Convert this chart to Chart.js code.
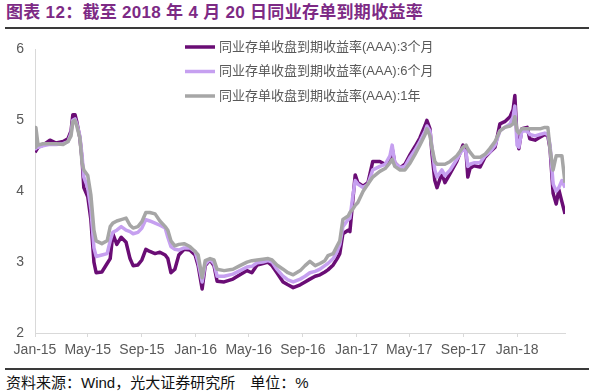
<!DOCTYPE html>
<html>
<head>
<meta charset="utf-8">
<script src="https://cdn.jsdelivr.net/npm/chart.js@4.4.1/dist/chart.umd.min.js"></script>
<style>
  html, body { margin: 0; padding: 0; background: #fff; }
  body {
    width: 600px; height: 392px; position: relative; overflow: hidden;
    font-family: "Liberation Sans", Arial, "Noto Sans CJK SC", sans-serif;
  }
  .title {
    position: absolute; left: 6px; top: 3px; line-height: 20px; letter-spacing: 0.3px;
    font-size: 17px; font-weight: bold; color: #7d2a85; white-space: nowrap;
  }
  .rule { position: absolute; left: 5px; width: 584px; height: 2px; background: #3a3a3a; }
  .source {
    position: absolute; left: 6px; top: 374px; line-height: 18px;
    font-size: 15px; color: #111; white-space: nowrap;
  }
  #wrap { position: absolute; left: 0; top: 30px; width: 600px; height: 332px; }
</style>
</head>
<body>
<div class="title">图表 12：截至 2018 年 4 月 20 日同业存单到期收益率</div>
<div class="rule" style="top:27px"></div>
<div id="wrap"><canvas id="yieldChart" width="600" height="332"></canvas></div>
<div class="rule" style="top:368px"></div>
<div class="source">资料来源：Wind，光大证券研究所　单位：%</div>

<script>
// series names (legend)
const seriesNames = [
  "同业存单收盘到期收益率(AAA):3个月",
  "同业存单收盘到期收益率(AAA):6个月",
  "同业存单收盘到期收益率(AAA):1年",
];

// x axis ticks
const tickDates = ["2015-01-01", "2015-05-01", "2015-09-01", "2016-01-01", "2016-05-01",
  "2016-09-01", "2017-01-01", "2017-05-01", "2017-09-01", "2018-01-01"];
const tickLabels = ["Jan-15", "May-15", "Sep-15", "Jan-16", "May-16",
  "Sep-16", "Jan-17", "May-17", "Sep-17", "Jan-18"];
const startDate = "2015-01-01";
const endDate = "2018-04-20";

// observation dates
const dates = [
  "2015-01-01", "2015-01-03", "2015-01-08", "2015-01-19", "2015-02-04", "2015-02-18",
  "2015-03-06", "2015-03-17", "2015-03-24", "2015-03-28", "2015-04-02", "2015-04-06",
  "2015-04-13", "2015-04-18", "2015-04-22", "2015-05-01", "2015-05-08", "2015-05-15",
  "2015-05-20", "2015-06-02", "2015-06-14", "2015-06-21", "2015-06-27", "2015-07-06",
  "2015-07-16", "2015-07-27", "2015-08-05", "2015-08-12", "2015-08-23", "2015-09-01",
  "2015-09-10", "2015-09-19", "2015-10-01", "2015-10-12", "2015-10-24", "2015-10-30",
  "2015-11-06", "2015-11-15", "2015-11-24", "2015-12-06", "2015-12-19", "2015-12-31",
  "2016-01-07", "2016-01-16", "2016-01-23", "2016-02-03", "2016-02-12", "2016-02-19",
  "2016-03-06", "2016-03-26", "2016-04-11", "2016-04-27", "2016-05-08", "2016-05-20",
  "2016-06-02", "2016-06-14", "2016-06-23", "2016-07-04", "2016-07-18", "2016-07-29",
  "2016-08-10", "2016-08-26", "2016-09-06", "2016-09-17", "2016-09-29", "2016-10-10",
  "2016-10-21", "2016-10-28", "2016-11-09", "2016-11-18", "2016-11-24", "2016-12-01",
  "2016-12-13", "2016-12-17", "2016-12-24", "2016-12-29", "2017-01-04", "2017-01-16",
  "2017-01-27", "2017-02-07", "2017-02-23", "2017-03-07", "2017-03-18", "2017-03-23",
  "2017-03-29", "2017-04-10", "2017-04-21", "2017-05-03", "2017-05-14", "2017-05-25",
  "2017-06-06", "2017-06-10", "2017-06-17", "2017-06-22", "2017-06-28", "2017-07-03",
  "2017-07-14", "2017-07-21", "2017-08-02", "2017-08-17", "2017-08-31", "2017-09-07",
  "2017-09-11", "2017-09-16", "2017-09-25", "2017-10-09", "2017-10-20", "2017-10-31",
  "2017-11-12", "2017-11-23", "2017-12-04", "2017-12-16", "2017-12-23", "2017-12-27",
  "2018-01-01", "2018-01-05", "2018-01-12", "2018-01-24", "2018-01-30", "2018-02-11",
  "2018-02-22", "2018-03-05", "2018-03-12", "2018-03-17", "2018-03-24", "2018-03-31",
  "2018-04-06", "2018-04-13", "2018-04-20",
];

// 3 months
const m3 = [
  4.55, 4.55, 4.62, 4.65, 4.72, 4.68,
  4.70, 4.74, 4.85, 5.08, 5.08, 4.98,
  4.75, 4.45, 4.05, 3.92, 3.60, 3.00,
  2.85, 2.86, 2.98, 3.05, 3.40, 3.25,
  3.35, 3.28, 3.05, 2.95, 2.96, 3.03,
  3.18, 3.15, 3.12, 3.14, 3.10, 3.05,
  2.85, 2.90, 3.10, 3.18, 3.17, 3.10,
  2.95, 2.62, 2.95, 3.03, 2.95, 2.73,
  2.72, 2.76, 2.82, 2.88, 2.85, 2.96,
  2.98, 3.00, 2.95, 2.85, 2.72, 2.68,
  2.64, 2.68, 2.72, 2.76, 2.80, 2.82,
  2.86, 2.89, 2.96, 3.05, 3.12, 3.40,
  3.45, 3.43, 3.90, 4.23, 4.12, 4.07,
  4.12, 4.42, 4.42, 4.38, 4.45, 4.60,
  4.40, 4.33, 4.38, 4.52, 4.63, 4.75,
  4.93, 5.00, 4.88, 4.50, 4.15, 4.05,
  4.25, 4.12, 4.25, 4.42, 4.65, 4.55,
  4.20, 4.32, 4.36, 4.34, 4.48, 4.55,
  4.62, 4.95, 4.98, 5.05, 5.15, 5.35,
  4.75, 4.60, 4.88, 4.90, 4.74, 4.72,
  4.76, 4.80, 4.78, 4.60, 3.97, 3.82,
  4.02, 3.85, 3.68,
];

// 6 months
const m6 = [
  4.60, 4.62, 4.62, 4.64, 4.66, 4.66,
  4.67, 4.70, 4.82, 5.00, 5.02, 4.95,
  4.78, 4.50, 4.20, 4.05, 3.75, 3.20,
  3.08, 3.10, 3.12, 3.30, 3.42, 3.45,
  3.50, 3.45, 3.43, 3.40, 3.42, 3.48,
  3.60, 3.58, 3.55, 3.52, 3.48, 3.35,
  3.22, 3.18, 3.17, 3.20, 3.20, 3.15,
  3.00, 2.72, 2.97, 3.04, 2.98, 2.80,
  2.80, 2.83, 2.88, 2.93, 2.94, 2.99,
  3.00, 3.02, 3.00, 2.90, 2.80, 2.75,
  2.72, 2.76, 2.80, 2.85, 2.87, 2.90,
  2.95, 2.98, 3.05, 3.15, 3.25, 3.50,
  3.60, 3.62, 3.95, 4.15, 4.10, 4.05,
  4.10, 4.30, 4.35, 4.38, 4.50, 4.65,
  4.40, 4.33, 4.35, 4.48, 4.58, 4.70,
  4.85, 4.92, 4.85, 4.60, 4.30, 4.20,
  4.30, 4.22, 4.30, 4.45, 4.60, 4.55,
  4.35, 4.38, 4.40, 4.40, 4.50, 4.55,
  4.65, 4.85, 4.90, 4.95, 5.05, 5.20,
  4.65, 4.62, 4.85, 4.85, 4.80, 4.78,
  4.80, 4.82, 4.80, 4.65, 4.10, 4.00,
  4.05, 4.15, 4.05,
];

// 1 year
const y1 = [
  4.62, 4.90, 4.65, 4.67, 4.67, 4.67,
  4.66, 4.70, 4.78, 4.98, 5.00, 4.92,
  4.75, 4.40, 4.30, 4.22, 3.95, 3.45,
  3.30, 3.26, 3.30, 3.50, 3.55, 3.58,
  3.60, 3.62, 3.52, 3.48, 3.50, 3.57,
  3.70, 3.70, 3.68, 3.58, 3.50, 3.45,
  3.30, 3.23, 3.25, 3.26, 3.22, 3.15,
  3.10, 2.78, 3.02, 3.05, 3.03, 2.90,
  2.88, 2.90, 2.95, 3.00, 3.02, 3.03,
  3.04, 3.05, 3.03, 2.96, 2.90, 2.85,
  2.82, 2.88, 2.95, 3.01, 2.95, 2.98,
  3.02, 3.09, 3.12, 3.23, 3.30, 3.60,
  3.65, 3.70, 3.75, 3.80, 3.84, 4.00,
  4.10, 4.20, 4.28, 4.32, 4.40, 4.45,
  4.35, 4.30, 4.30, 4.40, 4.52, 4.65,
  4.80, 4.88, 4.78, 4.60, 4.42, 4.38,
  4.38, 4.38, 4.42, 4.50, 4.62, 4.65,
  4.60, 4.55, 4.48, 4.48, 4.52, 4.60,
  4.70, 4.85, 4.90, 4.92, 4.95, 5.05,
  4.85, 4.82, 4.88, 4.88, 4.88, 4.88,
  4.88, 4.90, 4.90, 4.60, 4.30, 4.50,
  4.50, 4.50, 4.12,
];

const seriesColors = ["#6a0d75", "#c6a0f0", "#a6a6a6"];
const axisColor = "#d9d9d9";
const labelColor = "#595959";
const fontFamily = '"Liberation Sans", Arial, "Noto Sans CJK SC", sans-serif';

function dayOf(s) {
  const [y, m, d] = s.split("-").map(Number);
  const [y0, m0, d0] = startDate.split("-").map(Number);
  return Math.round((Date.UTC(y, m - 1, d) - Date.UTC(y0, m0 - 1, d0)) / 86400000);
}

const xs = dates.map(dayOf);
const tickDays = tickDates.map(dayOf);

function makeSet(i, values, order) {
  return {
    label: seriesNames[i],
    data: values.map((v, k) => ({ x: xs[k], y: v })),
    borderColor: seriesColors[i],
    borderWidth: 3.5,
    pointRadius: 0,
    tension: 0,
    borderJoinStyle: "round",
    order: order,
  };
}

// legend drawn inside the plot, top centre
const innerLegend = {
  id: "innerLegend",
  afterDatasetsDraw(chart) {
    const ctx = chart.ctx;
    ctx.save();
    ctx.font = "13px " + fontFamily;
    ctx.textBaseline = "middle";
    seriesNames.forEach((name, i) => {
      const y = 17 + i * 24.5;
      ctx.strokeStyle = seriesColors[i];
      ctx.lineWidth = 3.5;
      ctx.beginPath();
      ctx.moveTo(185, y);
      ctx.lineTo(215, y);
      ctx.stroke();
      ctx.fillStyle = labelColor;
      ctx.fillText(name, 219, y);
    });
    ctx.restore();
  },
};

const ctx = document.getElementById("yieldChart").getContext("2d");
new Chart(ctx, {
  type: "line",
  data: {
    datasets: [makeSet(0, m3, 3), makeSet(1, m6, 2), makeSet(2, y1, 1)],
  },
  options: {
    responsive: false,
    animation: false,
    layout: { padding: { top: 7, right: 35, left: 0, bottom: 0 } },
    plugins: { legend: { display: false }, tooltip: { enabled: false } },
    scales: {
      x: {
        type: "linear",
        min: 0,
        max: dayOf(endDate),
        afterBuildTicks: (s) => { s.ticks = tickDays.map((v) => ({ value: v })); },
        afterFit: (s) => { s.height = 29; },
        ticks: {
          autoSkip: false,
          maxRotation: 0,
          padding: 5,
          color: labelColor,
          font: { size: 14, family: fontFamily },
          callback: (v, i) => tickLabels[i],
        },
        grid: { drawOnChartArea: false, tickLength: 4, color: axisColor },
        border: { color: axisColor },
      },
      y: {
        min: 2,
        max: 6,
        afterFit: (s) => { s.width = 35; },
        ticks: {
          stepSize: 1,
          padding: 11,
          color: labelColor,
          font: { size: 14, family: fontFamily },
        },
        grid: { display: false, drawTicks: false },
        border: { display: true, color: axisColor },
      },
    },
  },
  plugins: [innerLegend],
});
</script>
</body>
</html>
